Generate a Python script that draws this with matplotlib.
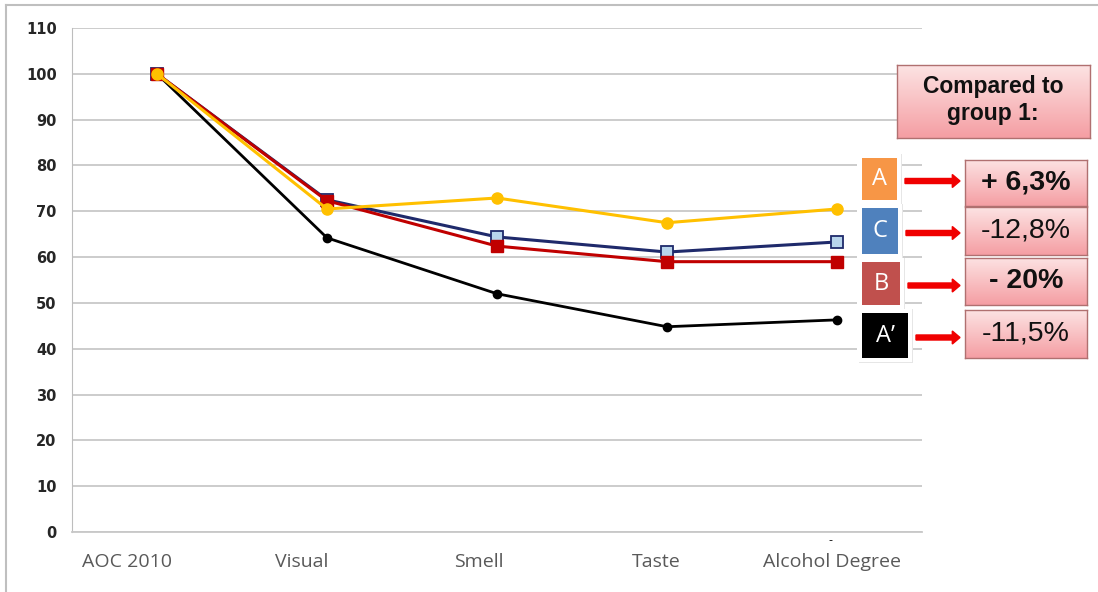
import numpy as np
import matplotlib.pyplot as plt
import matplotlib.transforms as mtransforms
from matplotlib.patches import Rectangle, FancyArrow
from matplotlib.lines import Line2D

categories = ["AOC 2010", "Visual", "Smell", "Taste", "Alcohol Degree"]
group_a_prime = [100, 64.2, 52.0, 44.8, 46.3]
group_c = [100, 72.5, 64.4, 61.1, 63.3]
group_b = [100, 72.3, 62.4, 59.0, 59.0]
group_a = [100, 70.5, 72.9, 67.5, 70.5]

box_letters = ["A", "C", "B", "A\u2019"]
box_colors = ["#F79646", "#4F81BD", "#C0504D", "#000000"]
changes = ["+ 6,3%", "-12,8%", "- 20%", "-11,5%"]
changes_bold = [True, False, True, False]

W, H = 1098, 592
fig = plt.figure(figsize=(W / 100, H / 100), dpi=100)


def fx(px):
    return px / W


def fy(py):
    return 1 - py / H


def pink_box(x0, y0, x1, y1):
    # light-to-dark pink gradient box with a thin border
    bax = fig.add_axes([fx(x0), fy(y1), fx(x1 - x0), fy(y0) - fy(y1)])
    grad = np.linspace(0, 1, 64).reshape(-1, 1)
    top = np.array([0.99, 0.89, 0.89])
    bottom = np.array([0.96, 0.62, 0.64])
    img = top + (bottom - top) * grad[:, :, None]
    bax.imshow(img, aspect="auto", extent=[0, 1, 0, 1], origin="upper")
    bax.set_xticks([])
    bax.set_yticks([])
    for s in bax.spines.values():
        s.set_color("#B07070")
        s.set_linewidth(1)
    return bax


# outer frame of the chart
fig.add_artist(Line2D([fx(6), 1], [fy(5), fy(5)], color="#BFBFBF", lw=1.5))
fig.add_artist(Line2D([fx(6), fx(6)], [fy(5), 0], color="#BFBFBF", lw=1.5))

ax = fig.add_axes([fx(72), fy(532), fx(922) - fx(72), fy(28) - fy(532)])
x = range(len(categories))

ax.plot(x, group_a_prime, color="black", lw=2, marker="o", ms=6, zorder=3)
ax.plot(x, group_c, color="#1F2A6B", lw=2.2, marker="s", ms=8,
        mfc="#B8D5EC", mec="#1F2A6B", mew=1.3, zorder=4)
ax.plot(x, group_b, color="#C00000", lw=2.2, marker="s", ms=8,
        mfc="#C00000", mec="#C00000", zorder=5)
ax.plot(x, group_a, color="#FFC000", lw=2.2, marker="o", ms=8,
        mfc="#FFC000", mec="#FFC000", zorder=6)

ax.set_xlim(-0.5, 4.5)
ax.set_ylim(0, 110)
ax.set_yticks(range(0, 111, 10))
ax.grid(axis="y", color="#C8C8C8", lw=1.3)
ax.set_axisbelow(True)
for side in ["top", "right"]:
    ax.spines[side].set_visible(False)
ax.spines["bottom"].set_color("#C8C8C8")
ax.spines["bottom"].set_linewidth(1.3)
ax.spines["left"].set_color("#BDBDBD")
ax.tick_params(length=0)
ax.tick_params(axis="y", pad=11)
ax.tick_params(axis="x", pad=15)
ax.set_xticks(list(x))
ax.set_xticklabels(categories, fontsize=14, color="#595959", family="Open Sans")
# category labels sit a little left of their points
shifts = [-30, -25, -18, -11, -5]
for lbl, dx in zip(ax.get_xticklabels(), shifts):
    lbl.set_transform(lbl.get_transform() + mtransforms.ScaledTranslation(dx / 100, 0, fig.dpi_scale_trans))
for lbl in ax.get_yticklabels():
    lbl.set_fontsize(10.5)
    lbl.set_fontweight("bold")
    lbl.set_color("#262626")

# stray mark under the last category
fig.text(fx(830), fy(540), "-", fontsize=8, ha="center", va="center")

# header box
pink_box(897, 65, 1090, 138)
fig.text(fx(993), fy(100), "Compared to\ngroup 1:", ha="center", va="center",
         fontsize=16.5, fontweight="bold", family="Liberation Sans",
         linespacing=1.2, color="#111111")

letter_boxes = [(862, 158, 897, 200), (862, 208, 898, 254),
                (862, 262, 900, 305), (862, 313, 908, 358)]
value_boxes = [(965, 160, 1087, 206), (965, 207, 1087, 255),
               (965, 258, 1087, 305), (965, 310, 1087, 358)]

for i in range(4):
    x0, y0, x1, y1 = letter_boxes[i]
    # white frame with a faint shadow
    fig.add_artist(Rectangle((fx(x0 - 3), fy(y1 + 5)), fx(x1 - x0 + 8), fy(0) - fy(y1 - y0 + 9),
                             facecolor="#E6E6E6", edgecolor="none"))
    fig.add_artist(Rectangle((fx(x0 - 5), fy(y1 + 4)), fx(x1 - x0 + 9), fy(0) - fy(y1 - y0 + 8),
                             facecolor="white", edgecolor="none"))
    fig.add_artist(Rectangle((fx(x0), fy(y1)), fx(x1 - x0), fy(0) - fy(y1 - y0),
                             facecolor=box_colors[i], edgecolor="none"))
    fig.text(fx((x0 + x1) / 2), fy((y0 + y1) / 2), box_letters[i], ha="center",
             va="center", color="white", fontsize=17, family="Open Sans")

    vx0, vy0, vx1, vy1 = value_boxes[i]
    pink_box(vx0, vy0, vx1, vy1)
    fig.text(fx((vx0 + vx1) / 2), fy((vy0 + vy1) / 2), changes[i], ha="center",
             va="center", fontsize=20.5, family="Liberation Sans", color="#111111",
             fontweight="bold" if changes_bold[i] else "normal")

    # red arrow from the letter to its value
    ay = fy((y0 + y1) / 2 + 2)
    fig.add_artist(FancyArrow(fx(x1 + 8), ay, fx(960) - fx(x1 + 8), 0,
                              width=0.0085, head_width=0.022, head_length=0.007,
                              length_includes_head=True, color="#F00000",
                              transform=fig.transFigure))

fig.savefig("out.png", dpi=100)
